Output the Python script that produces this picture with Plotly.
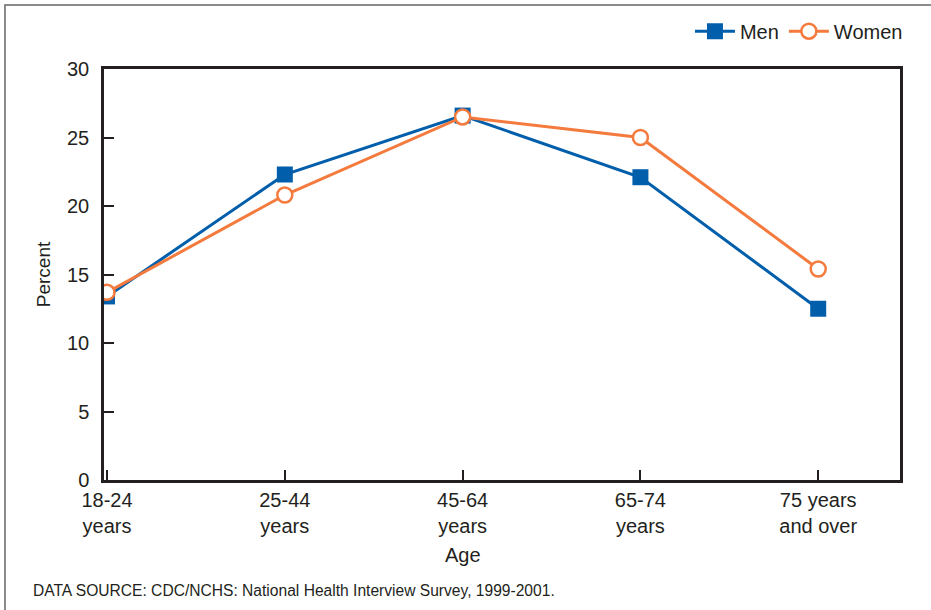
import plotly.graph_objects as go

age_groups = ['18-24<br>years', '25-44<br>years', '45-64<br>years', '65-74<br>years', '75 years<br>and over']
men = [13.4, 22.3, 26.6, 22.1, 12.5]
women = [13.7, 20.8, 26.5, 25.0, 15.4]

BLUE = '#005EAB'
ORANGE = '#F47B3D'
FONT = 'Liberation Sans, Arial, sans-serif'
INK = '#231F20'

fig = go.Figure()
fig.add_trace(go.Scatter(
	x=list(range(len(age_groups))), y=men, name='Men', mode='lines+markers',
	line=dict(color=BLUE, width=3),
	marker=dict(symbol='square', size=16, color=BLUE),
))
fig.add_trace(go.Scatter(
	x=list(range(len(age_groups))), y=women, name='Women', mode='lines+markers',
	line=dict(color=ORANGE, width=3),
	marker=dict(symbol='circle', size=15, color='white', line=dict(color=ORANGE, width=2.5)),
))

axis_style = dict(showline=True, linecolor=INK, linewidth=2.5, mirror=True,
	showgrid=False, zeroline=False, ticks='inside', ticklen=10, tickwidth=2,
	tickcolor=INK, tickfont=dict(size=20, color=INK, family=FONT))

fig.update_xaxes(**axis_style, tickmode='array', tickvals=list(range(len(age_groups))),
	ticktext=age_groups, range=[-0.017, 4.46], ticklabelstandoff=0)
fig.update_yaxes(**axis_style, range=[0, 30], dtick=5, ticklabelstandoff=8,
	title=dict(text='Percent', font=dict(size=19, color=INK, family=FONT), standoff=12))

fig.add_annotation(text='Age', xref='x', yref='paper', x=2, y=-0.182, yanchor='middle',
	showarrow=False, font=dict(size=20, color=INK, family=FONT))
fig.add_annotation(text='DATA SOURCE: CDC/NCHS: National Health Interview Survey, 1999-2001.',
	xref='paper', yref='paper', x=-0.0915, y=-0.268, xanchor='left', yanchor='middle',
	showarrow=False, font=dict(size=15.6, color=INK, family=FONT))

# outer frame
fig.add_shape(type='rect', xref='paper', yref='paper', x0=-0.1244, y0=-0.5, x1=1.2, y1=1.156,
	line=dict(color='#666666', width=1.5), layer='below')

fig.update_layout(
	width=931, height=610,
	margin=dict(l=104, r=31, t=69, b=130, autoexpand=False),
	plot_bgcolor='white', paper_bgcolor='white',
	font=dict(family=FONT, color=INK),
	showlegend=True,
	legend=dict(orientation='h', x=1.01, xanchor='right', y=1.092, yanchor='middle',
		font=dict(size=20, color=INK, family=FONT), itemwidth=40, bgcolor='rgba(0,0,0,0)'),
)

fig.write_html('out.html', config={'displayModeBar': False},
	post_script="document.body.style.margin='0';")
